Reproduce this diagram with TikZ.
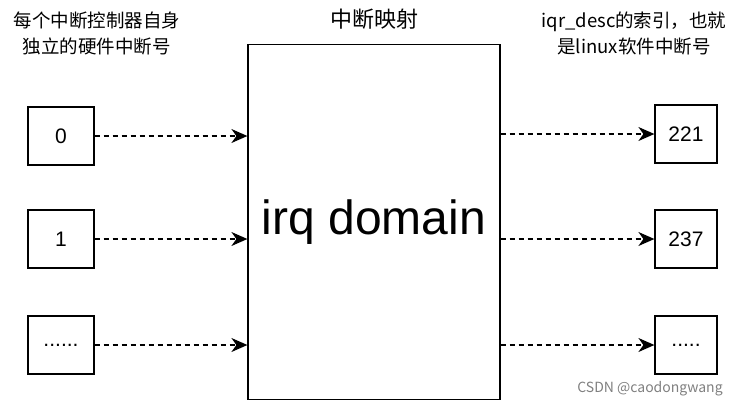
\documentclass[tikz,border=0pt]{standalone}
\usepackage{fontspec}
\setmainfont{Liberation Sans}
\newfontfamily\cjk{Noto Sans CJK SC}
\usetikzlibrary{arrows.meta}
\begin{document}
\begin{tikzpicture}[x=1pt,y=-1pt,
  box/.style={draw,line width=1.2pt,inner sep=0pt,font=\fontsize{21}{24}\selectfont},
  conn/.style={line width=1.2pt,dash pattern=on 5pt off 4pt,-{Stealth[length=16pt,width=14pt,inset=5pt,sep=0pt]}},
  lbl/.style={align=center,font=\cjk\fontsize{18.5}{26}\selectfont}]
\useasboundingbox (0,0) rectangle (748,408);
\node[box,minimum width=66pt,minimum height=58pt] (l0) at (61,136) {0};
\node[box,minimum width=66pt,minimum height=58pt] (l1) at (61,239) {1};
\node[box,minimum width=66pt,minimum height=58pt] (l2) at (61,345) {......};
\node[box,minimum width=252pt,minimum height=355pt,font=\fontsize{48}{52}\selectfont] (m) at (374,222) {irq domain};
\node[box,minimum width=62pt,minimum height=58pt] (r0) at (686,134) {221};
\node[box,minimum width=62pt,minimum height=58pt] (r1) at (686,239) {237};
\node[box,minimum width=62pt,minimum height=58pt] (r2) at (686,345) {.....};
\draw[conn] (l0.east) -- (l0.east -| m.west);
\draw[conn] (l1.east) -- (l1.east -| m.west);
\draw[conn] (l2.east) -- (l2.east -| m.west);
\draw[conn] (r0.west -| m.east) -- (r0.west);
\draw[conn] (r1.west -| m.east) -- (r1.west);
\draw[conn] (r2.west -| m.east) -- (r2.west);
\node[lbl] (tl) at (97,33) {每个中断控制器自身\\独立的硬件中断号};
\node[lbl,font=\cjk\fontsize{22}{26}\selectfont] (tm) at (374,19) {中断映射};
\node[lbl] (tr) at (634,33) {iqr\_desc的索引，也就\\是linux软件中断号};
\node[font=\cjk\fontsize{14}{15}\selectfont,text=gray] (wm) at (650,389) {CSDN @caodongwang};
\end{tikzpicture}
\end{document}
